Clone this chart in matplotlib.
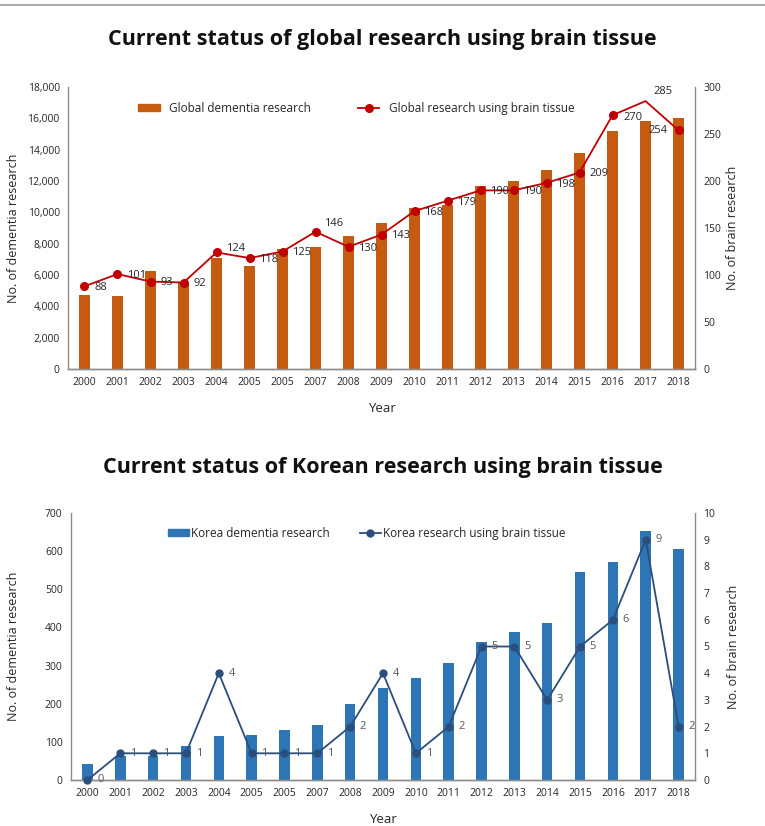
import matplotlib
matplotlib.use("Agg")
import matplotlib.pyplot as plt
from matplotlib.lines import Line2D

plt.rcParams['font.family'] = ['Open Sans', 'DejaVu Sans']

# data
years = ["2000", "2001", "2002", "2003", "2004", "2005", "2005", "2007", "2008", "2009",
         "2010", "2011", "2012", "2013", "2014", "2015", "2016", "2017", "2018"]

global_dementia = [4700, 4650, 6280, 5540, 7080, 6570, 7680, 7760, 8500, 9330,
                   10300, 10470, 11680, 12000, 12700, 13760, 15220, 15800, 16010]
global_brain = [88, 101, 93, 92, 124, 118, 125, 146, 130, 143,
                168, 179, 190, 190, 198, 209, 270, 285, 254]

korea_dementia = [42, 64, 63, 88, 115, 118, 130, 143, 198, 241,
                  267, 306, 363, 388, 411, 545, 572, 654, 605]
korea_brain = [0, 1, 1, 1, 4, 1, 1, 1, 2, 4, 1, 2, 5, 5, 3, 5, 6, 9, 2]

W, H = 765, 826
fig = plt.figure(figsize=(W / 100, H / 100), dpi=100)

# thin gray rule at the very top
fig.add_artist(Line2D([0, 1], [1 - 5 / H, 1 - 5 / H], color="#9a9a9a", lw=1.2))

txt = "#262626"
spine_c = "#8c8c8c"


def px_axes(left, right, top, bottom):
    return fig.add_axes([left / W, 1 - bottom / H, (right - left) / W, (bottom - top) / H])


def style(ax, ax2):
    for a in (ax, ax2):
        a.spines['top'].set_visible(False)
        for s in ('left', 'right', 'bottom'):
            a.spines[s].set_color(spine_c)
            a.spines[s].set_linewidth(1.0)
        a.tick_params(length=0, labelsize=7.5, colors=txt, pad=6)
    ax2.spines['left'].set_visible(False)
    ax.spines['right'].set_visible(False)


x = list(range(len(years)))

# ---------- top chart ----------
ax = px_axes(68, 695, 87, 369)
ax2 = ax.twinx()
ax.bar(x, global_dementia, width=0.32, color="#C55A11", zorder=1)
ax2.plot(x, global_brain, color="#C00000", lw=1.3, marker="o", ms=5.5,
         markevery=[i for i in x if i != 17], zorder=3)
ax.set_ylim(0, 18000)
ax.set_yticks(range(0, 18001, 2000))
ax.set_yticklabels([f"{v:,}" for v in range(0, 18001, 2000)])
ax2.set_ylim(0, 300)
ax2.set_yticks(range(0, 301, 50))
ax.set_xlim(-0.5, len(years) - 0.5)
ax.set_xticks(x)
ax.set_xticklabels(years)
style(ax, ax2)
ax.set_zorder(ax2.get_zorder() - 1)
ax.patch.set_visible(False)
ax.set_ylabel("No. of dementia research", fontsize=9, color=txt)
ax.yaxis.set_label_coords(-0.077, 0.5)
ax2.set_ylabel("No. of brain research", fontsize=9, color=txt)
ax2.yaxis.set_label_coords(1.05, 0.5)
ax.set_xlabel("Year", fontsize=9.5, color=txt, labelpad=10)

offs = {4: (7, 3), 7: (6, 6), 17: (6, 7), 18: (-8, 0), 16: (8, -2)}
for i, v in enumerate(global_brain):
    dx, dy = offs.get(i, (7, -1))
    ax2.annotate(str(v), (i, v), xytext=(dx, dy), textcoords="offset points",
                 ha="right" if dx < 0 else "left", va="center", fontsize=8, color=txt)

leg = ax.legend([plt.Rectangle((0, 0), 1, 1, color="#C55A11"),
                 Line2D([], [], color="#C00000", marker="o", ms=5.5, lw=1.3)],
                ["Global dementia research", "Global research using brain tissue"],
                loc="center", bbox_to_anchor=(0.46, 0.925), ncol=2, frameon=False,
                fontsize=8.5, columnspacing=4, handlelength=1.8, handleheight=0.6)
for t in leg.get_texts():
    t.set_color(txt)

fig.text(0.5, 1 - 40 / H, "Current status of global research using brain tissue",
         ha="center", va="center", fontsize=15.5, fontweight="bold", color="#111111")

# ---------- bottom chart ----------
bx = px_axes(71, 695, 513, 780)
bx2 = bx.twinx()
bx.bar(x, korea_dementia, width=0.32, color="#2E75B6", zorder=1)
bx2.plot(x, korea_brain, color="#2B4E7A", lw=1.3, marker="o", ms=5, zorder=3,
         clip_on=False)
bx.set_ylim(0, 700)
bx.set_yticks(range(0, 701, 100))
bx2.set_ylim(0, 10)
bx2.set_yticks(range(0, 11))
bx.set_xlim(-0.5, len(years) - 0.5)
bx.set_xticks(x)
bx.set_xticklabels(years)
style(bx, bx2)
bx.set_zorder(bx2.get_zorder() - 1)
bx.patch.set_visible(False)
bx.set_ylabel("No. of dementia research", fontsize=9, color=txt)
bx.yaxis.set_label_coords(-0.082, 0.5)
bx2.set_ylabel("No. of brain research", fontsize=9, color=txt)
bx2.yaxis.set_label_coords(1.051, 0.5)
bx.set_xlabel("Year", fontsize=9.5, color=txt, labelpad=10)

for i, v in enumerate(korea_brain):
    bx2.annotate(str(v), (i, v), xytext=(7, 0), textcoords="offset points",
                 ha="left", va="center", fontsize=8, color="#595959")

leg = bx.legend([plt.Rectangle((0, 0), 1, 1, color="#2E75B6"),
                 Line2D([], [], color="#2B4E7A", marker="o", ms=5, lw=1.3)],
                ["Korea dementia research", "Korea research using brain tissue"],
                loc="center", bbox_to_anchor=(0.474, 0.925), ncol=2, frameon=False,
                fontsize=8.5, columnspacing=2.5, handlelength=1.8, handleheight=0.6,
                handletextpad=0.2)
for t in leg.get_texts():
    t.set_color(txt)

fig.text(0.5, 1 - 467 / H, "Current status of Korean research using brain tissue",
         ha="center", va="center", fontsize=15.5, fontweight="bold", color="#111111")

fig.savefig("out.png", dpi=100, facecolor="white")
